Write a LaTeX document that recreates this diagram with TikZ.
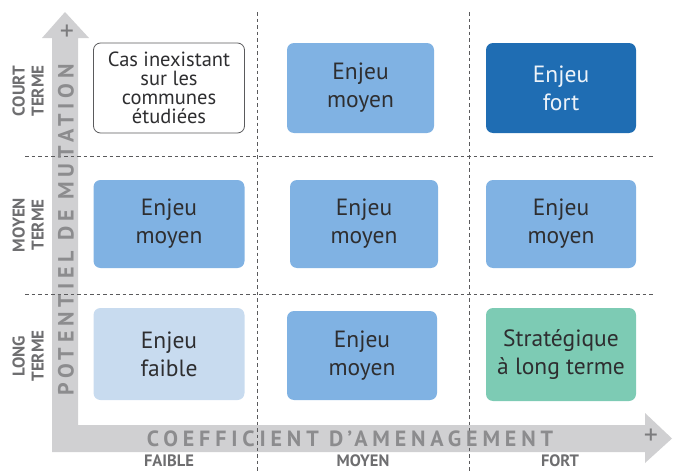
\documentclass[tikz,border=0pt]{standalone}
\usepackage{fontspec}
\setmainfont{PT Sans}
\usetikzlibrary{positioning}
\definecolor{bandgray}{HTML}{D0D0D2}
\definecolor{bandtext}{HTML}{8C8C8E}
\definecolor{labgray}{HTML}{6E6E70}
\definecolor{gridgray}{HTML}{5A5A5C}
\definecolor{textgray}{HTML}{2E2E30}
\definecolor{lowblue}{HTML}{C8DBEF}
\definecolor{midblue}{HTML}{80B2E3}
\definecolor{darkblue}{HTML}{1F6DB3}
\definecolor{softgreen}{HTML}{7DCBB4}

\begin{document}
\begin{tikzpicture}[x=1pt,y=-1pt,
  cell/.style={rounded corners=7pt,minimum width=151pt,minimum height=90pt,
    align=center,inner sep=2pt,text=textgray,
    font=\fontsize{23.5}{28}\selectfont},
  rowlab/.style={rotate=90,align=center,text=labgray,
    font=\fontsize{17}{19}\selectfont\bfseries},
  collab/.style={text=labgray,inner sep=0pt,
    font=\fontsize{16.5}{17}\selectfont\bfseries},
  axistext/.style={text=bandtext,
    font=\fontsize{22}{24}\selectfont\bfseries\addfontfeatures{LetterSpace=22}},
  plus/.style={text=labgray!90,inner sep=0pt,font=\fontsize{28}{28}\selectfont},
  grid/.style={gridgray,line width=0.9pt,dash pattern=on 3.5pt off 3pt}]

\useasboundingbox (0,0) rectangle (673,471);

% the two axes as one grey band with arrow heads
\fill[bandgray] (52,38) -- (42,38) -- (65,12) -- (89,38) -- (78,38)
  -- (78,425) -- (645,425) -- (645,413) -- (672,438.5) -- (645,463)
  -- (645,452) -- (52,452) -- cycle;

% grid
\draw[grid] (257,12) -- (257,471);
\draw[grid] (469,12) -- (469,471);
\draw[grid] (25,156) -- (655,156);
\draw[grid] (25,294) -- (655,294);

% axis texts
\node[axistext,rotate=90] (ytitle) at (66,230) {POTENTIEL DE MUTATION};
\node[plus] (yplus) at (67,33) {+};
\node[axistext] (xtitle) at (350,439) {COEFFICIENT D’AMENAGEMENT};
\node[plus] (xplus) at (651,437) {+};

% row and column labels
\node[rowlab] (court) at (28,91) {COURT\\TERME};
\node[rowlab] (moyenT) at (28,225) {MOYEN\\TERME};
\node[rowlab] (long) at (28,356) {LONG\\TERME};
\node[collab] (faible) at (169,461) {FAIBLE};
\node[collab] (moyenC) at (363,461) {MOYEN};
\node[collab] (fort) at (560,461) {FORT};

% cells, top row first
\node[cell,draw=gridgray,line width=0.8pt,fill=white,
  font=\fontsize{20.5}{19}\selectfont] (c11) at (169,88)
  {Cas inexistant\\sur les\\communes\\étudiées};
\node[cell,fill=midblue,minimum width=147pt] (c12) at (360.5,88) {Enjeu\\moyen};
\node[cell,fill=darkblue,text=white!92!darkblue,minimum width=150pt] (c13) at (561,88) {Enjeu\\fort};

\node[cell,fill=midblue,minimum height=88pt] (c21) at (169,224) {Enjeu\\moyen};
\node[cell,fill=midblue,minimum height=88pt,minimum width=148pt] (c22) at (364,224) {Enjeu\\moyen};
\node[cell,fill=midblue,minimum height=88pt,minimum width=150pt] (c23) at (561,224) {Enjeu\\moyen};

\node[cell,fill=lowblue,minimum height=92pt] (c31) at (169,354) {Enjeu\\faible};
\node[cell,fill=midblue,minimum height=89pt,minimum width=150pt] (c32) at (362,355.5) {Enjeu\\moyen};
\node[cell,fill=softgreen,minimum height=93pt,minimum width=150pt] (c33) at (561,354.5) {Stratégique\\à long terme};
\end{tikzpicture}
\end{document}
